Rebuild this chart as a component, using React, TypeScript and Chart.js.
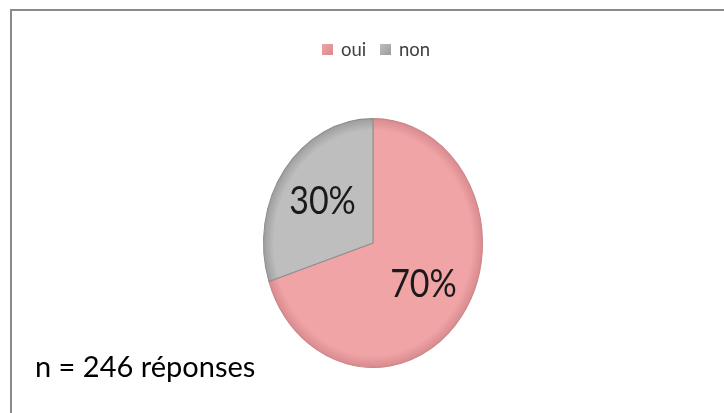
import React, { useEffect, useRef } from "react";
import { Chart, registerables } from "chart.js";

Chart.register(...registerables);

const categories = ["oui", "non"];
const values = [70, 30];
const sliceColors = ["#F0A4A6", "#BEBEBE"];
const rimColors = ["#D88A8D", "#9C9C9C"];
const edgeColors = ["#C98588", "#8E8E8E"];
const noteText = "n = 246 réponses";

const SY = 1.136;

const ellipsePlugin = {
  id: "ellipse",
  beforeDatasetsDraw(chart: any) {
    const ctx = chart.ctx;
    const { left, right, top, bottom } = chart.chartArea;
    const cx = (left + right) / 2;
    const cy = (top + bottom) / 2;
    ctx.save();
    ctx.translate(cx, cy);
    ctx.scale(1, SY);
    ctx.translate(-cx, -cy);
  },
  afterDatasetsDraw(chart: any) {
    const ctx = chart.ctx;
    const meta = chart.getDatasetMeta(0);
    const data = chart.data.datasets[0].data as number[];
    const total = data.reduce((a, b) => a + b, 0);
    ctx.fillStyle = "#1A1A1A";
    ctx.font = "34px Lato";
    ctx.textAlign = "center";
    ctx.textBaseline = "middle";
    meta.data.forEach((arc: any, i: number) => {
      const p = arc.getProps(["x", "y", "startAngle", "endAngle", "outerRadius"], true);
      const mid = (p.startAngle + p.endAngle) / 2;
      const r = p.outerRadius * 0.57;
      const x = p.x + Math.cos(mid) * r;
      const y = p.y + Math.sin(mid) * r;
      ctx.fillText(Math.round((data[i] / total) * 100) + "%", x, y);
    });
    ctx.restore();
  },
};

function sliceFill(c: any) {
  const i = c.dataIndex ?? 0;
  const chart = c.chart;
  const area = chart.chartArea;
  if (!area) return sliceColors[i];
  const cx = (area.left + area.right) / 2;
  const cy = (area.top + area.bottom) / 2;
  const r = Math.min(area.right - area.left, area.bottom - area.top) / 2;
  const g = chart.ctx.createRadialGradient(cx, cy, 0, cx, cy, r);
  g.addColorStop(0, sliceColors[i]);
  g.addColorStop(0.9, sliceColors[i]);
  g.addColorStop(1, rimColors[i]);
  return g;
}

export default function App() {
  const ref = useRef<HTMLCanvasElement>(null);
  useEffect(() => {
    if (!ref.current) return;
    const chart = new Chart(ref.current, {
      type: "pie",
      data: {
        labels: categories,
        datasets: [
          {
            data: values,
            backgroundColor: sliceFill as any,
            borderColor: edgeColors,
            borderWidth: 1,
            clip: false as any,
          },
        ],
      },
      options: {
        responsive: false,
        animation: false,
        layout: { padding: { left: 263, right: 241, top: 133, bottom: 60 } },
        plugins: {
          legend: { display: false },
          tooltip: { enabled: false },
        },
      },
      plugins: [ellipsePlugin],
    });
    return () => chart.destroy();
  }, []);

  const legendItem = (label: string, i: number, left: number) => (
    <div
      key={label}
      style={{ position: "absolute", left, top: 38, display: "flex", alignItems: "center", height: 22 }}
    >
      <div
        style={{
          width: 11,
          height: 11,
          background: `linear-gradient(135deg, ${sliceColors[i]}, ${rimColors[i]})`,
          marginRight: 8,
        }}
      />
      <span style={{ fontFamily: "Lato", fontSize: 18.5, color: "#404040" }}>{label}</span>
    </div>
  );

  return (
    <div style={{ position: "fixed", left: 0, top: 0, width: 724, height: 413, background: "#fff", overflow: "hidden" }}>
      <div
        style={{
          position: "absolute",
          left: 10,
          top: 9,
          width: 740,
          height: 430,
          borderTop: "2px solid #8A8A8A",
          borderLeft: "2px solid #8A8A8A",
        }}
      />
      <canvas ref={ref} width={724} height={413} style={{ position: "absolute", left: 0, top: 0 }} />
      {legendItem(categories[0], 0, 322)}
      {legendItem(categories[1], 1, 380)}
      <div
        style={{
          position: "absolute",
          left: 35,
          top: 348,
          fontFamily: "Lato",
          fontSize: 29,
          color: "#000",
          whiteSpace: "nowrap",
        }}
      >
        {noteText}
      </div>
    </div>
  );
}
